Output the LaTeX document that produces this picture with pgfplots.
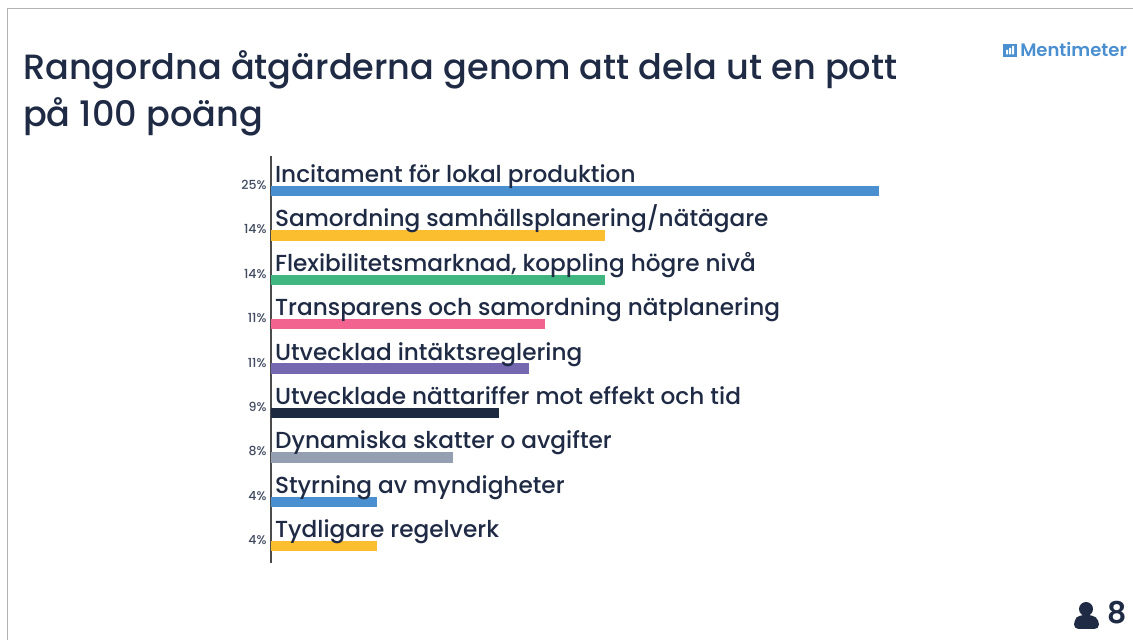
\documentclass[border=0pt]{standalone}
\usepackage{pgfplots}
\pgfplotsset{compat=1.18}
\usepackage{fontspec}
\setmainfont{Poppins Medium}
\newfontfamily\semi{Poppins SemiBold}
\definecolor{ink}{HTML}{1F2A44}
\definecolor{cblue}{HTML}{4A8FD0}
\definecolor{cyel}{HTML}{FBBE2E}
\definecolor{cgreen}{HTML}{3FB57F}
\definecolor{cpink}{HTML}{F2638F}
\definecolor{cpurp}{HTML}{7568B0}
\definecolor{cnavy}{HTML}{1E2A40}
\definecolor{cgray}{HTML}{959FB2}
\tikzset{cat/.style={anchor=base west,text=ink,font=\fontsize{23.2}{24}\selectfont,inner sep=0pt,yshift=8.5pt}}
\begin{document}
\begin{tikzpicture}[x=1pt,y=1pt]
\path[use as bounding box] (0,0) rectangle (1133,640);
\draw[gray!60,line width=1pt] (7.5,0) -- (7.5,631) -- (1133,631);
\node[anchor=base west,inner sep=0pt,text=ink,font=\fontsize{35.1}{36}\selectfont] at (23,560) {Rangordna åtgärderna genom att dela ut en pott};
\node[anchor=base west,inner sep=0pt,text=ink,font=\fontsize{35.1}{36}\selectfont] at (23,513) {på 100 poäng};
\begin{axis}[
  at={(271pt,484pt)},anchor=north west,
  width=608pt,height=407pt,scale only axis,
  xmin=0,xmax=25,ymin=-0.788,ymax=8.378,
  y dir=reverse,
  axis y line=left,axis x line=none,
  y axis line style={-,draw=black!70,line width=1.3pt},
  ytick={0,...,8},
  yticklabels={25\%,14\%,14\%,11\%,11\%,9\%,8\%,4\%,4\%},
  major tick length=0pt,
  yticklabel style={font=\fontsize{12.5}{13}\selectfont,text=ink!85,yshift=6pt,xshift=-1pt},
  xbar,bar width=10.5pt,bar shift=0pt,
  clip=false,
]
\addplot[fill=cblue,draw=none] coordinates {(25,0)};
\addplot[fill=cyel,draw=none] coordinates {(13.73,1)};
\addplot[fill=cgreen,draw=none] coordinates {(13.73,2)};
\addplot[fill=cpink,draw=none] coordinates {(11.27,3)};
\addplot[fill=cpurp,draw=none] coordinates {(10.6,4)};
\addplot[fill=cnavy,draw=none] coordinates {(9.37,5)};
\addplot[fill=cgray,draw=none] coordinates {(7.48,6)};
\addplot[fill=cblue,draw=none] coordinates {(4.36,7)};
\addplot[fill=cyel,draw=none] coordinates {(4.36,8)};
\node[cat] at (axis cs:0.16,0) {Incitament för lokal produktion};
\node[cat] at (axis cs:0.16,1) {Samordning samhällsplanering/nätägare};
\node[cat] at (axis cs:0.16,2) {Flexibilitetsmarknad, koppling högre nivå};
\node[cat] at (axis cs:0.16,3) {Transparens och samordning nätplanering};
\node[cat] at (axis cs:0.16,4) {Utvecklad intäktsreglering};
\node[cat] at (axis cs:0.16,5) {Utvecklade nättariffer mot effekt och tid};
\node[cat] at (axis cs:0.16,6) {Dynamiska skatter o avgifter};
\node[cat] at (axis cs:0.16,7) {Styrning av myndigheter};
\node[cat] at (axis cs:0.16,8) {Tydligare regelverk};
\end{axis}
\node[anchor=base east,inner sep=0pt,text=cblue,font=\semi\fontsize{18}{19}\selectfont] at (1127,583) {Mentimeter};
\fill[cblue] (1003,583) rectangle (1017,596);
\fill[white] (1006,585.5) rectangle (1008,590) (1009,585.5) rectangle (1011,592) (1012,585.5) rectangle (1014,594);
\fill[ink] (1086,31) circle (7);
\fill[ink,rounded corners=4.5pt] (1074,11) -- (1074,20) -- (1079,25) -- (1093,25) -- (1099,20) -- (1099,11) -- cycle;
\node[anchor=base east,inner sep=0pt,text=ink,font=\semi\fontsize{30}{30}\selectfont] at (1127,16) {8};
\end{tikzpicture}
\end{document}
